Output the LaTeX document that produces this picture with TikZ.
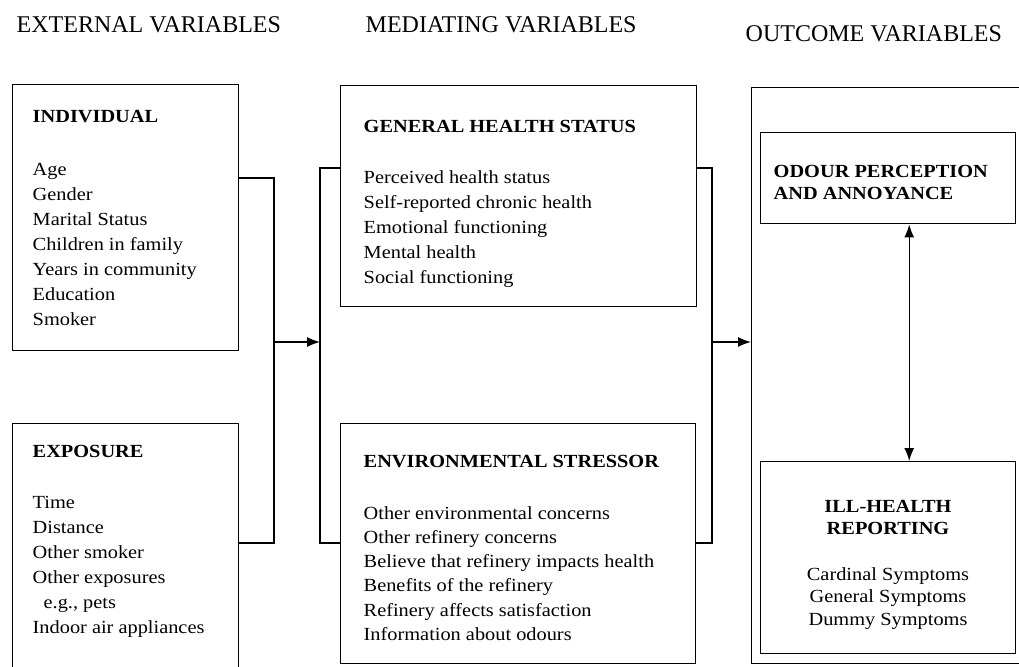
\documentclass[tikz,border=0pt]{standalone}
\usepackage{fontspec}
\setmainfont{Liberation Serif}
\newfontfamily\scanfont[FakeStretch=1.1]{Liberation Serif}
\usetikzlibrary{arrows.meta}

\begin{document}
\begin{tikzpicture}[x=1pt,y=-1pt,line width=1.4pt,
  box/.style={draw,rectangle,inner sep=0pt,anchor=north west},
  head/.style={anchor=base west,inner sep=0pt,font=\fontsize{24}{28}\selectfont},
  title/.style={anchor=base west,inner sep=0pt,font=\scanfont\bfseries\fontsize{18.5}{22}\selectfont},
  item/.style={anchor=base west,inner sep=0pt,font=\scanfont\fontsize{18.5}{25}\selectfont},
  tip/.style={-{Latex[length=13pt,width=10pt]}}]
\clip (0,0) rectangle (1019,666);
% column headings
\node[head] (hext) at (16,33) {EXTERNAL VARIABLES};
\node[head] (hmed) at (365,33) {MEDIATING VARIABLES};
\node[head] (hout) at (745,42) {OUTCOME VARIABLES};
% boxes
\node[box,minimum width=226,minimum height=266] (indiv) at (12,84) {};
\node[box,minimum width=226,minimum height=270] (expo) at (12,423) {};
\node[box,minimum width=356,minimum height=221] (ghs) at (340,85) {};
\node[box,minimum width=355,minimum height=240] (env) at (340,423) {};
\node[box,minimum width=290,minimum height=576] (outcome) at (751,87) {};
\node[box,minimum width=255,minimum height=91] (odour) at (760,132) {};
\node[box,minimum width=255,minimum height=192] (ill) at (760,461) {};
% external
\node[title] (indT) at (32,122) {INDIVIDUAL};
\foreach \t [count=\i] in {Age,Gender,Marital Status,Children in family,Years in community,Education,Smoker}
  \node[item] (ind-\i) at (32,175+25*\i-25) {\t};
\node[title] (expT) at (32,457) {EXPOSURE};
\foreach \t [count=\i] in {Time,Distance,Other smoker,Other exposures,{\hspace*{11pt}e.g., pets},Indoor air appliances}
  \node[item] (exp-\i) at (32,508+25*\i-25) {\t};
% mediating
\node[title] (ghsT) at (363,132) {GENERAL HEALTH STATUS};
\foreach \t [count=\i] in {Perceived health status,Self-reported chronic health,Emotional functioning,Mental health,Social functioning}
  \node[item] (ghs-\i) at (363,183+25*\i-25) {\t};
\node[title] (envT) at (363,467) {ENVIRONMENTAL STRESSOR};
\foreach \t [count=\i] in {Other environmental concerns,Other refinery concerns,Believe that refinery impacts health,Benefits of the refinery,Refinery affects satisfaction,Information about odours}
  \node[item] (env-\i) at (363,519+24.3*\i-24.3) {\t};
% outcome
\node[title] (odT-1) at (773,177) {ODOUR PERCEPTION};
\node[title] (odT-2) at (773,199) {AND ANNOYANCE};
\node[title,anchor=base] (illT-1) at (888,512) {ILL-HEALTH};
\node[title,anchor=base] (illT-2) at (888,534) {REPORTING};
\foreach \t [count=\i] in {Cardinal Symptoms,General Symptoms,Dummy Symptoms}
  \node[item,anchor=base] (ill-\i) at (888,580+22.5*\i-22.5) {\t};
% connectors
\coordinate (tl) at (274,178); \coordinate (bl) at (274,543); \coordinate (jl) at (274,342);
\coordinate (tm) at (320,168); \coordinate (bm) at (320,543); \coordinate (jm) at (320,342);
\coordinate (tr) at (712,168); \coordinate (br) at (712,543); \coordinate (jr) at (712,342);
\draw (indiv.east |- tl) -- (tl) -- (bl) -- (expo.east |- bl);
\draw[tip] (jl) -- (jm);
\draw (ghs.west |- tm) -- (tm) -- (bm) -- (env.west |- bm);
\draw (ghs.east |- tr) -- (tr) -- (br) -- (env.east |- br);
\draw[tip] (jr) -- (jr -| outcome.west);
\draw[{Latex[length=13pt,width=10pt]}-{Latex[length=13pt,width=10pt]}] ([xshift=21]odour.south) -- ([xshift=21]ill.north);
\end{tikzpicture}
\end{document}
